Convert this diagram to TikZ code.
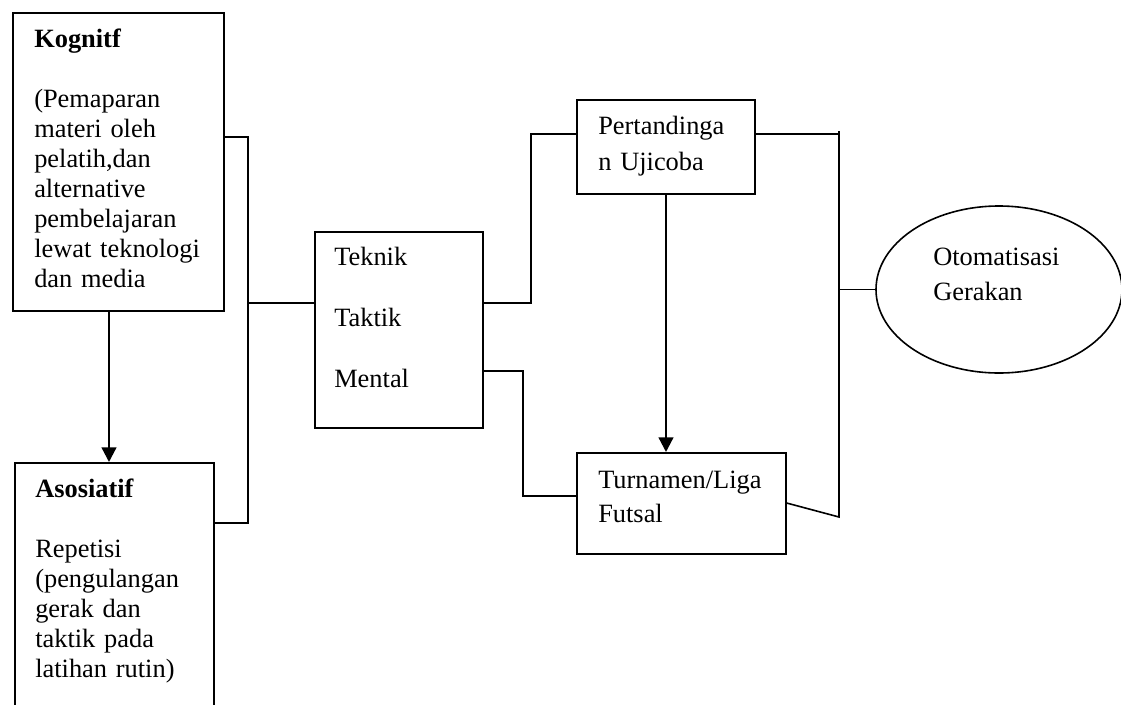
\documentclass[tikz,border=0pt]{standalone}
\usepackage{fontspec}
\setmainfont{Liberation Serif}
\usetikzlibrary{arrows.meta,shapes.geometric}
\begin{document}
\begin{tikzpicture}[x=0.75pt,y=-0.75pt,
  box/.style={draw=black,line width=1.2pt,rectangle,inner sep=0pt,anchor=north west},
  oval/.style={draw=black,line width=1.2pt,ellipse,inner sep=0pt},
  conn/.style={draw=black,line width=1.2pt},
  arr/.style={draw=black,line width=1.7pt,-{Triangle[length=11pt,width=11pt]}},
  txt/.style={inner sep=0pt,anchor=base west,text width=200pt,align=left,font=\fontsize{19.8}{22.5}\selectfont}]
\clip (0,0) rectangle (1121,704);
\fill[white] (0,0) rectangle (1121,704);
% boxes
\node[box,minimum width=158.25pt,minimum height=223.5pt] (kog) at (12,12) {};
\node[box,minimum width=149.25pt,minimum height=193.5pt] (aso) at (14,462) {};
\node[box,minimum width=126pt,minimum height=147pt] (tek) at (314,231) {};
\node[box,minimum width=133.5pt,minimum height=70.5pt] (per) at (576,99) {};
\node[box,minimum width=156.75pt,minimum height=75.75pt] (tur) at (576,452) {};
\node[oval,minimum width=184.5pt,minimum height=125.25pt] (oto) at (999,289.5) {};
% texts
\node[txt] (kogt) at (34,47) {\textbf{Kognitf}\\[22.5pt](Pemaparan\\materi oleh\\pelatih,dan\\alternative\\pembelajaran\\lewat teknologi\\dan media};
\node[txt] (asot) at (35,497) {\textbf{Asosiatif}\\[22.5pt]Repetisi\\(pengulangan\\gerak dan\\taktik pada\\latihan rutin)};
\node[txt,font=\fontsize{19.8}{46.1}\selectfont] (tekt) at (334,265) {Teknik\\Taktik\\Mental};
\node[txt,font=\fontsize{19.8}{27}\selectfont] (pert) at (598,134) {Pertandinga\\n Ujicoba};
\node[txt,font=\fontsize{19.8}{26}\selectfont] (turt) at (598,488) {Turnamen/Liga\\Futsal};
\node[txt,font=\fontsize{19.8}{26.25}\selectfont] (otot) at (933,265) {Otomatisasi\\Gerakan};
% junction coordinates
\coordinate (bl1) at (248,137);
\coordinate (bl2) at (248,523);
\coordinate (blm) at (248,303);
\coordinate (r1) at (531,303);
\coordinate (r1t) at (531,134);
\coordinate (r2) at (523,371);
\coordinate (r2b) at (523,496);
\coordinate (pr) at (838,134);
\coordinate (br1) at (839,131);
\coordinate (br2) at (839,517);
\coordinate (brm) at (839,289.5);
\coordinate (tr) at (0,503);
\coordinate (ax1) at (109,0);
\coordinate (ax2) at (666,0);
% connectors
\draw[conn] (kog.east |- bl1) -- (bl1) -- (bl2) -- (aso.east |- bl2);
\draw[conn] (blm) -- (tek.west |- blm);
\draw[conn] (tek.east |- r1) -- (r1) -- (r1t) -- (per.west |- r1t);
\draw[conn] (tek.east |- r2) -- (r2) -- (r2b) -- (tur.west |- r2b);
\draw[conn] (per.east |- pr) -- (pr);
\draw[conn] (br1) -- (br2) -- (tur.east |- tr);
\draw[conn] (brm) -- (oto.west);
\draw[arr] (kog.south -| ax1) -- (aso.north -| ax1);
\draw[arr] (per.south -| ax2) -- (tur.north -| ax2);
\end{tikzpicture}
\end{document}
